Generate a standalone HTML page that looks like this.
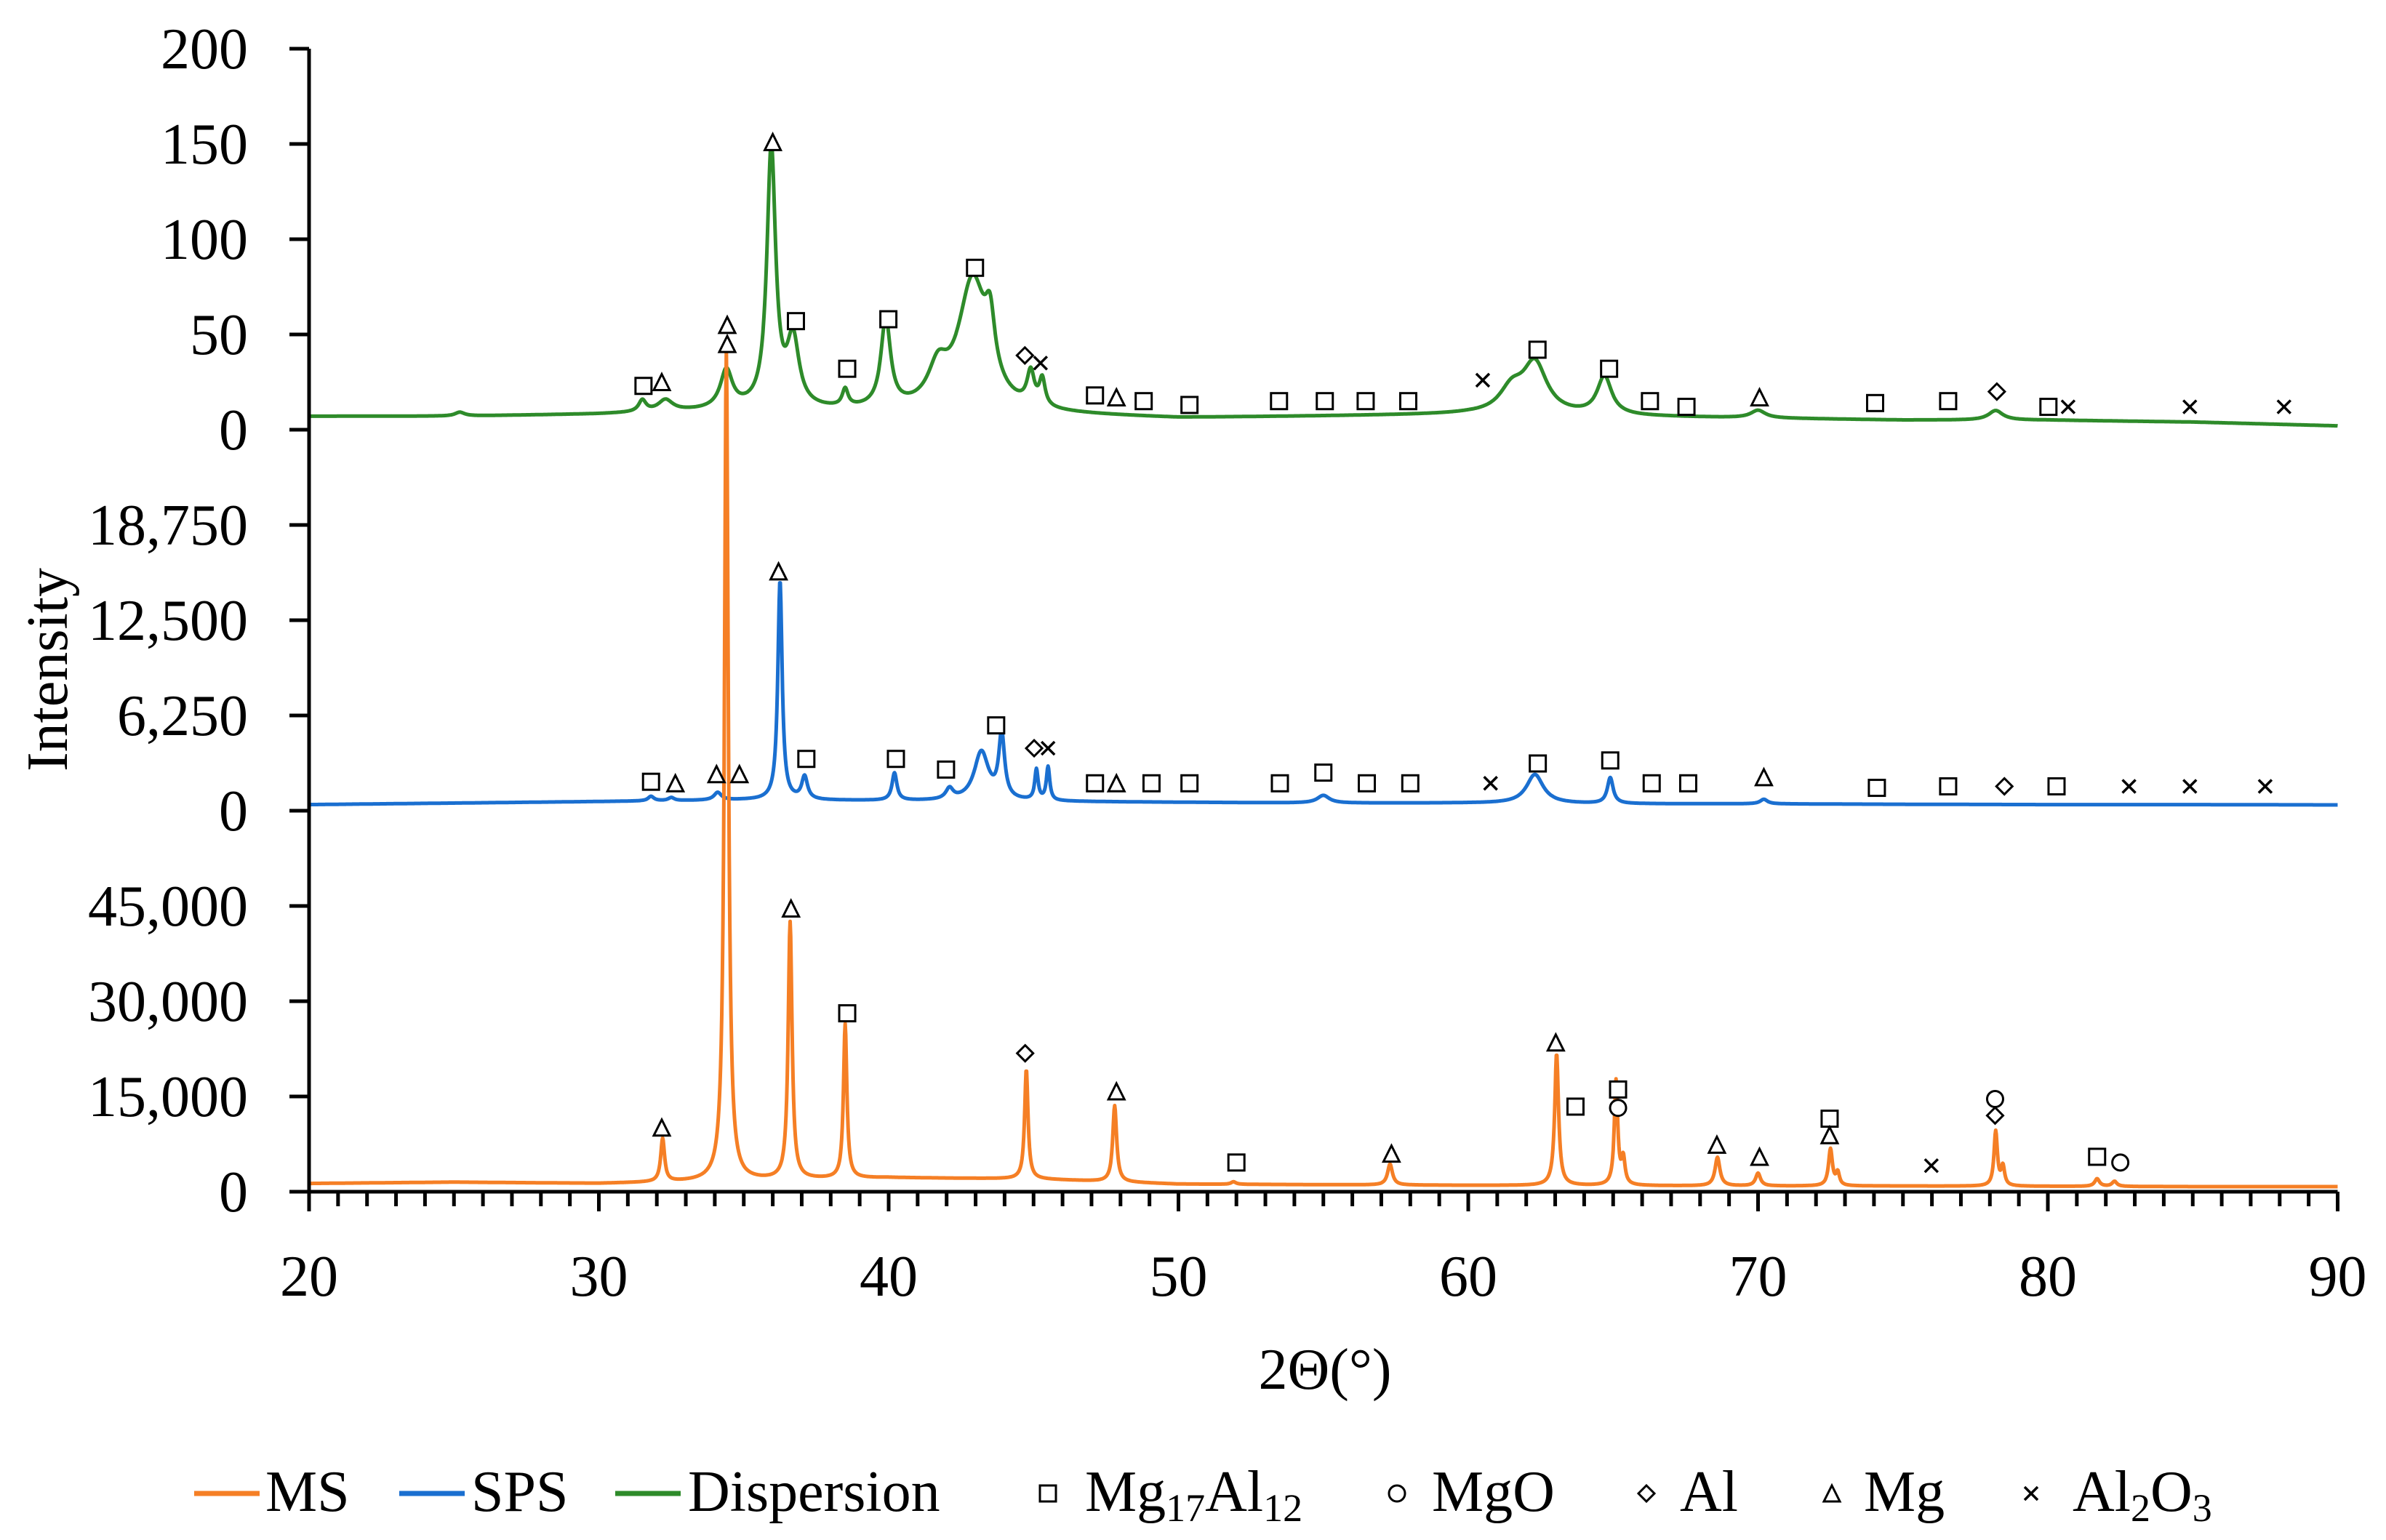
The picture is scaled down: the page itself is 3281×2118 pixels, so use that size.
<!DOCTYPE html>
<html><head><meta charset="utf-8"><style>
html,body{margin:0;padding:0;background:#fff;}
svg{display:block;font-family:"Liberation Serif",serif;}
</style></head><body>
<svg id="chart" width="3281" height="2118" viewBox="0 0 3281 2118" xmlns="http://www.w3.org/2000/svg"></svg>
<script>
// ---- data ----
const xTicks=[20,30,40,50,60,70,80,90];
const greenTicks=["200","150","100","50","0"];
const spsTicks=["18,750","12,500","6,250","0"];
const msTicks=["45,000","30,000","15,000","0"];
const baseDeg=[20,25,30,35,40,45,50,55,60,65,70,75,80,85,90];
const greenBase=[7,7,8,10,9,8,6,7,8,7,6,5,5,4,2];
const spsBase=[400,500,600,700,650,600,550,500,500,450,450,420,400,400,380];
const msBase=[1300,1500,1300,1700,2200,2000,1200,1100,1000,950,900,900,850,800,800];
const greenPos=[31.5,32.3,34.4,35.95,36.7,38.5,39.9,41.7,42.9,43.5,44.9,45.3,61.5,62.3,64.7,70,78.2,25.2];
const greenH=[6,6,20,136,35,9,46,18,68,28,17,14,12,26,20,4,5,2];
const greenW=[0.15,0.3,0.25,0.18,0.25,0.12,0.2,0.4,0.6,0.2,0.15,0.12,0.5,0.5,0.3,0.3,0.3,0.2];
const spsPos=[31.8,32.5,34.1,36.25,37.1,40.2,42.1,43.2,43.9,45.1,45.5,55,62.3,64.9,70.2];
const spsH=[300,200,500,14400,1500,1800,700,3200,4200,2000,2200,500,1900,1700,300];
const spsW=[0.12,0.12,0.15,0.09,0.12,0.1,0.15,0.3,0.12,0.07,0.07,0.25,0.35,0.12,0.15];
const msPos=[32.2,34.4,36.6,38.5,44.75,47.8,51.9,57.3,63.05,65.1,65.35,68.6,70.0,72.5,72.75,78.2,78.45,81.7,82.3];
const msH=[6800,130800,40500,24300,17300,12000,400,3300,20800,16500,4000,4500,2000,5800,2000,8600,3000,1200,800];
const msW=[0.08,0.08,0.08,0.07,0.07,0.08,0.1,0.1,0.08,0.07,0.07,0.1,0.1,0.08,0.07,0.07,0.07,0.1,0.1];
const greenMk=[["s",31.54,23],["t",32.17,25],["t",34.43,55],["t",34.43,45],["t",36.0,151],["s",36.8,57],["s",38.57,32],["s",39.99,58],["s",42.98,85],["d",44.7,39],["x",45.24,35],["s",47.12,18],["t",47.86,17],["s",48.8,15],["s",50.38,13],["s",53.47,15],["s",55.05,15],["s",56.46,15],["s",57.93,15],["x",60.5,26],["s",62.39,42],["s",64.86,32],["s",66.27,15],["s",67.53,12],["t",70.05,17],["s",74.04,14],["s",76.56,15],["d",78.24,20],["s",80.02,12],["x",80.7,12],["x",84.9,12],["x",88.15,12]];
const spsMk=[["s",31.8,1900],["t",32.64,1800],["t",34.06,2400],["t",34.85,2400],["t",36.2,15700],["s",37.16,3400],["s",40.25,3400],["s",41.98,2700],["s",43.71,5600],["d",45.02,4100],["x",45.5,4100],["s",47.12,1800],["t",47.86,1800],["s",49.07,1800],["s",50.38,1800],["s",53.5,1800],["s",55.0,2500],["s",56.5,1800],["s",58.0,1800],["x",60.77,1800],["s",62.4,3100],["s",64.9,3300],["s",66.33,1800],["s",67.59,1800],["t",70.2,2200],["s",74.1,1500],["s",76.56,1600],["d",78.5,1600],["s",80.3,1600],["x",82.8,1600],["x",84.9,1600],["x",87.5,1600]];
const msMk=[["t",32.17,10100],["t",36.63,44600],["s",38.57,28100],["d",44.71,21800],["t",47.86,15800],["s",52.0,4600],["t",57.35,6000],["t",63.02,23500],["s",63.7,13400],["s",65.17,16100],["c",65.17,13200],["t",68.58,7400],["t",70.05,5500],["s",72.47,11500],["t",72.47,8900],["x",75.98,4100],["c",78.18,14600],["d",78.18,12000],["s",81.7,5500],["c",82.5,4600]];

const NS="http://www.w3.org/2000/svg";
const svg=document.getElementById('chart');
const X0=425, PX=39.85, TOP=67, STEP=131;
const xs=d=>X0+(d-20)*PX;
const panels={
  green:{zero:TOP+4*STEP, per:STEP/50},
  sps:{zero:TOP+8*STEP, per:STEP/6250},
  ms:{zero:TOP+12*STEP, per:STEP/15000}
};
const ys=(p,v)=>panels[p].zero - v*panels[p].per;
function el(tag,attrs,parent){const e=document.createElementNS(NS,tag);for(const k in attrs)e.setAttribute(k,attrs[k]);(parent||svg).appendChild(e);return e;}
function baseAt(arr,d){for(let i=0;i<baseDeg.length-1;i++){if(d<=baseDeg[i+1]){const t=(d-baseDeg[i])/(baseDeg[i+1]-baseDeg[i]);return arr[i]+t*(arr[i+1]-arr[i]);}}return arr[arr.length-1];}
function curve(pos,h,w,base,d){let v=baseAt(base,d);for(let i=0;i<pos.length;i++){const u=(d-pos[i])/w[i];v+=h[i]/(1+u*u);}return v;}
function drawSeries(p,pos,h,w,base,color,name){
  let s="";for(let d=20;d<=90.0001;d+=0.02){s+=(s?"L":"M")+xs(d).toFixed(1)+","+ys(p,curve(pos,h,w,base,d)).toFixed(1);}
  const e=el('path',{d:s,fill:'none',stroke:color,'stroke-width':5,'stroke-linejoin':'round'});
  
  
}
function marker(type,cx,cy,g){
  const r=11;
  if(type==='s')el('rect',{x:cx-r,y:cy-r,width:2*r,height:2*r,fill:'#fff',stroke:'#000','stroke-width':3},g);
  else if(type==='t')el('polygon',{points:`${cx},${cy-r} ${cx+r},${cy+r} ${cx-r},${cy+r}`,fill:'#fff',stroke:'#000','stroke-width':3},g);
  else if(type==='d')el('polygon',{points:`${cx},${cy-r} ${cx+r},${cy} ${cx},${cy+r} ${cx-r},${cy}`,fill:'#fff',stroke:'#000','stroke-width':3},g);
  else if(type==='c')el('circle',{cx:cx,cy:cy,r:r,fill:'#fff',stroke:'#000','stroke-width':3},g);
  else el('path',{d:`M${cx-9},${cy-9}L${cx+9},${cy+9}M${cx+9},${cy-9}L${cx-9},${cy+9}`,stroke:'#000','stroke-width':3.5},g);
}
function drawMarkers(p,list,name){
  const g=el('g',{});
  
  
  list.forEach(m=>marker(m[0],xs(m[1]),ys(p,m[2]),g));
}

drawSeries('green',greenPos,greenH,greenW,greenBase,'#2e8b2a','dispersion-line');
drawSeries('sps',spsPos,spsH,spsW,spsBase,'#1a6fd0','sps-line');
drawSeries('ms',msPos,msH,msW,msBase,'#f57f25','ms-line');
drawMarkers('green',greenMk,'dispersion-markers');
drawMarkers('sps',spsMk,'sps-markers');
drawMarkers('ms',msMk,'ms-markers');

const ax=el('g',{stroke:'#000','stroke-width':5});


el('line',{x1:X0,y1:TOP,x2:X0,y2:TOP+12*STEP+3},ax);
el('line',{x1:X0-27,y1:TOP+12*STEP,x2:xs(90),y2:TOP+12*STEP},ax);
const yLabels=greenTicks.concat(spsTicks,msTicks);
yLabels.forEach((t,i)=>{
  const y=TOP+i*STEP;
  el('line',{x1:X0-27,y1:y,x2:X0,y2:y},ax);
  const tx=el('text',{x:341,y:y+27,'font-size':80,'text-anchor':'end',fill:'#000'});
  tx.textContent=t;
  
  
});
const y0=TOP+12*STEP;
for(let d=21;d<90;d++){if(d%10)el('line',{x1:xs(d),y1:y0,x2:xs(d),y2:y0+20},ax);}
xTicks.forEach(d=>{
  el('line',{x1:xs(d),y1:y0,x2:xs(d),y2:y0+27},ax);
  const tx=el('text',{x:xs(d),y:1782,'font-size':80,'text-anchor':'middle',fill:'#000'});
  tx.textContent=d;
  
  
});
const xt=el('text',{x:1822,y:1910,'font-size':80,'text-anchor':'middle'});
xt.textContent='2Θ(°)';


const yt=el('text',{x:0,y:0,'font-size':80,'text-anchor':'middle',transform:'translate(92,921) rotate(-90)'});
yt.textContent='Intensity';



const lg=el('g',{});


const LY=2054, LB=2078;
[[267,'#f57f25','MS',365],[549,'#1a6fd0','SPS',648],[846,'#2e8b2a','Dispersion',946]].forEach(a=>{
  el('line',{x1:a[0],y1:LY,x2:a[0]+90,y2:LY,stroke:a[1],'stroke-width':7},lg);
  const t=el('text',{x:a[3],y:LB,'font-size':80},lg);t.textContent=a[2];
  
  
});
[['s',1441,1492,'Mg<tspan font-size="54" dy="14">17</tspan><tspan dy="-14">Al</tspan><tspan font-size="54" dy="14">12</tspan>'],
 ['c',1921,1969,'MgO'],['d',2264,2310,'Al'],['t',2519,2563,'Mg'],
 ['x',2793,2850,'Al<tspan font-size="54" dy="14">2</tspan><tspan dy="-14">O</tspan><tspan font-size="54" dy="14">3</tspan>']].forEach(a=>{
  marker(a[0],a[1],LY,lg);
  const t=el('text',{x:a[2],y:LB,'font-size':80},lg);t.innerHTML=a[3];
  
  
});
</script>
</body></html>
